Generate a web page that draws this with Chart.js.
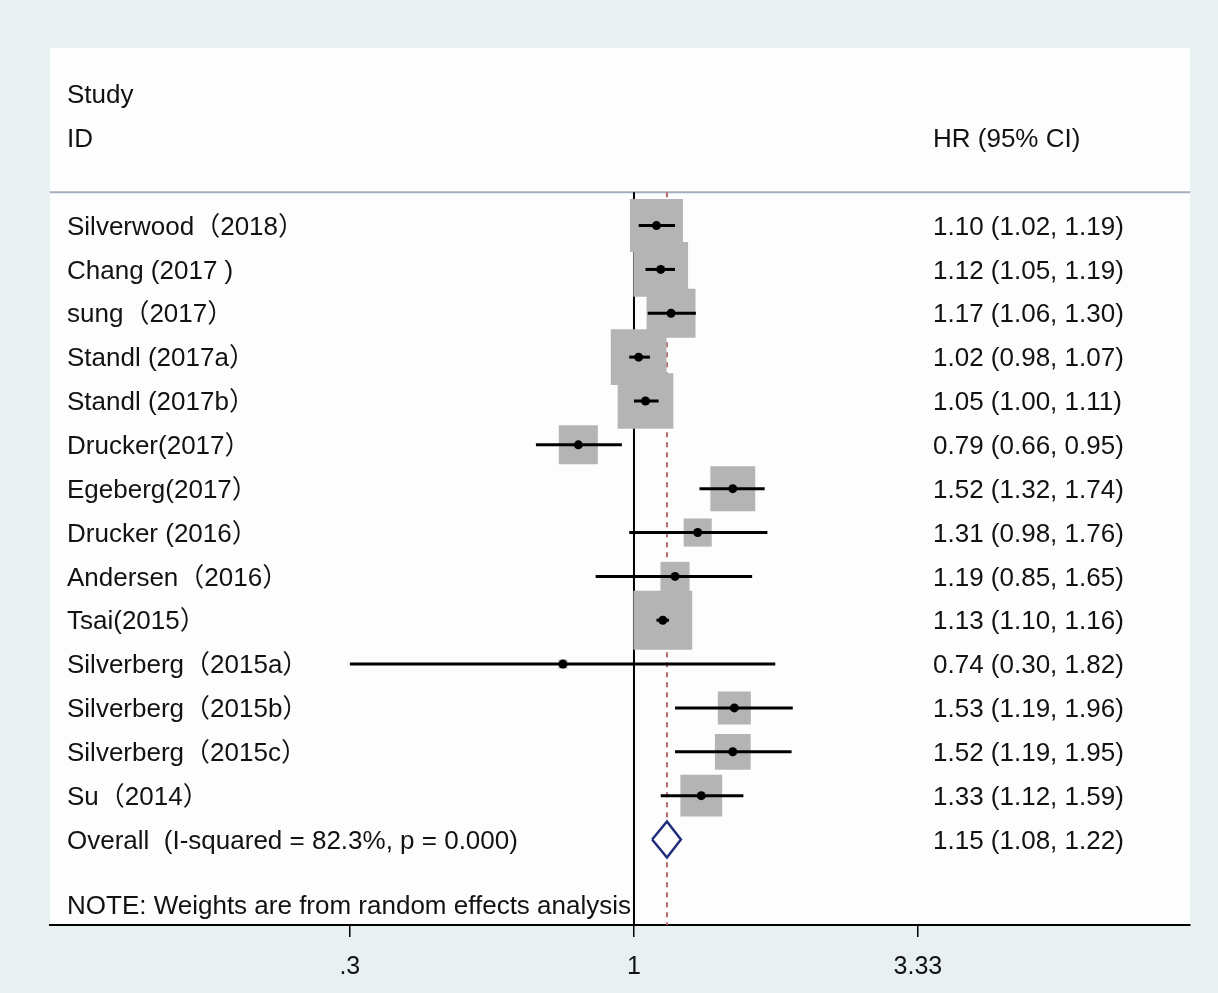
<!doctype html>
<html lang="en">
<head>
<meta charset="utf-8" />
<title>Forest plot • HR</title>
<style>
  html,body{margin:0;padding:0;background:#e8f0f2;overflow:hidden}
  #wrap{position:relative;width:1218px;height:993px}
  canvas{display:block}
</style>
<script src="https://cdn.jsdelivr.net/npm/chart.js@4.4.1/dist/chart.umd.min.js"></script>
</head>
<body>
<div id="wrap"><canvas id="c"></canvas></div>
<script>
// study rows, top to bottom
const studies = [
  "Silverwood（2018）", "Chang (2017 )", "sung（2017）", "Standl (2017a）",
  "Standl (2017b）", "Drucker(2017）", "Egeberg(2017）", "Drucker (2016）",
  "Andersen（2016）", "Tsai(2015）", "Silverberg（2015a）", "Silverberg（2015b）",
  "Silverberg（2015c）", "Su（2014）"
];
const hr    = [1.10, 1.12, 1.17, 1.02, 1.05, 0.79, 1.52, 1.31, 1.19, 1.13, 0.74, 1.53, 1.52, 1.33];
const ciLow = [1.02, 1.05, 1.06, 0.98, 1.00, 0.66, 1.32, 0.98, 0.85, 1.10, 0.30, 1.19, 1.19, 1.12];
const ciHigh= [1.19, 1.19, 1.30, 1.07, 1.11, 0.95, 1.74, 1.76, 1.65, 1.16, 1.82, 1.96, 1.95, 1.59];
// random-effects weights (%)
const weights = [10.3, 11.0, 8.8, 11.4, 11.4, 5.6, 7.4, 2.9, 3.1, 12.7, 0.3, 4.0, 4.7, 6.4];

const overallLabel = "Overall  (I-squared = 82.3%, p = 0.000)";
const overallHr = 1.15, overallLow = 1.08, overallHigh = 1.22;
const note = "NOTE: Weights are from random effects analysis";

const tickValues = [0.3, 1, 3.33];
const tickLabels = [".3", "1", "3.33"];

(function(){
  const FONT = '26px "Liberation Sans", Arial, "Noto Sans CJK SC", sans-serif';
  const TXT = "#121212";
  const overallRow = studies.length;
  const headerRow = -0.76;
  const fmt = (e,l,h) => e.toFixed(2) + " (" + l.toFixed(2) + ", " + h.toFixed(2) + ")";

  const ciSets = studies.map((s,i) => ({
    type:"line", order:3, showLine:true,
    data:[{x:ciLow[i], y:i}, {x:ciHigh[i], y:i}],
    borderColor:"#000", borderWidth:3, pointRadius:0, borderCapStyle:"butt"
  }));

  const datasets = [
    { type:"line", order:6, data:[{x:1,y:headerRow},{x:1,y:16}],
      borderColor:"#000", borderWidth:2, pointRadius:0 },
    { type:"line", order:5, data:[{x:overallHr,y:headerRow},{x:overallHr,y:16}],
      borderColor:"#b86a6a", borderWidth:2, borderDash:[5,5], pointRadius:0 },
    { type:"scatter", order:4,
      data: hr.map((v,i) => ({x:v, y:i})),
      pointStyle:"rect", backgroundColor:"#b4b4b4", borderWidth:0,
      pointRadius: ctx => 16.5 * Math.sqrt(weights[ctx.dataIndex]) / 1.4142 },
    ...ciSets,
    { type:"scatter", order:2,
      data: hr.map((v,i) => ({x:v, y:i})),
      pointStyle:"circle", backgroundColor:"#000", borderColor:"#000", borderWidth:0, pointRadius:4.5 },
    { type:"line", order:1, fill:"shape",
      data:[
        {x:overallLow, y:overallRow}, {x:overallHr, y:overallRow-0.41},
        {x:overallHigh, y:overallRow}, {x:overallHr, y:overallRow+0.41},
        {x:overallLow, y:overallRow}
      ],
      borderColor:"#1f2d7c", borderWidth:2.5, backgroundColor:"#fdfdfe", pointRadius:0, tension:0 }
  ];

  const panel = {
    id:"panel",
    beforeDraw(chart){
      const {ctx, chartArea:a} = chart;
      ctx.save();
      ctx.fillStyle = "#fdfdfe";
      ctx.fillRect(a.left, a.top, a.right - a.left, a.bottom - a.top);
      const y = chart.scales.y.getPixelForValue(headerRow);
      ctx.strokeStyle = "#a3aeba"; ctx.lineWidth = 2;
      ctx.beginPath(); ctx.moveTo(a.left, y); ctx.lineTo(a.right, y); ctx.stroke();
      ctx.restore();
    },
    afterDraw(chart){
      const {ctx} = chart;
      const ys = chart.scales.y;
      const py = v => ys.getPixelForValue(v) + 2;
      const lx = 67, rx = 933;
      ctx.save();
      ctx.font = FONT; ctx.fillStyle = TXT; ctx.textBaseline = "middle"; ctx.textAlign = "left";
      ctx.fillText("Study", lx, py(-3));
      ctx.fillText("ID", lx, py(-2));
      ctx.fillText("HR (95% CI)", rx, py(-2));
      studies.forEach((s,i) => {
        ctx.fillText(s, lx, py(i));
        ctx.fillText(fmt(hr[i], ciLow[i], ciHigh[i]), rx, py(i));
      });
      ctx.fillText(overallLabel, lx, py(overallRow));
      ctx.fillText(fmt(overallHr, overallLow, overallHigh), rx, py(overallRow));
      ctx.fillText(note, lx, py(overallRow + 1.5));
      ctx.restore();
    }
  };

  new Chart(document.getElementById("c"), {
    type:"scatter",
    data:{ datasets },
    options:{
      responsive:true, maintainAspectRatio:false, animation:false,
      // big weight boxes would otherwise trigger ~42px auto padding
      layout:{ autoPadding:false, padding:{ left:50, right:28, top:48, bottom:0 } },
      plugins:{ legend:{display:false}, tooltip:{enabled:false} },
      scales:{
        x:{
          type:"logarithmic", min:0.0842, max:10.55,
          afterBuildTicks: s => { s.ticks = tickValues.map(v => ({value:v})); },
          afterFit: s => { s.height = 68; s.paddingLeft = 0; s.paddingRight = 0; },
          ticks:{ autoSkip:false, maxRotation:0, padding:15, color:TXT,
                  font:{ family:'"Liberation Sans", Arial, sans-serif', size:25 },
                  callback:(v,i) => tickLabels[i] },
          grid:{ drawOnChartArea:false, drawTicks:true, tickLength:12, color:"#000", lineWidth:1.5 },
          border:{ display:true, color:"#000", width:2 }
        },
        y:{ type:"linear", display:false, reverse:true, min:-4.05, max:15.95 }
      }
    },
    plugins:[panel]
  });
})();
</script>
</body>
</html>
